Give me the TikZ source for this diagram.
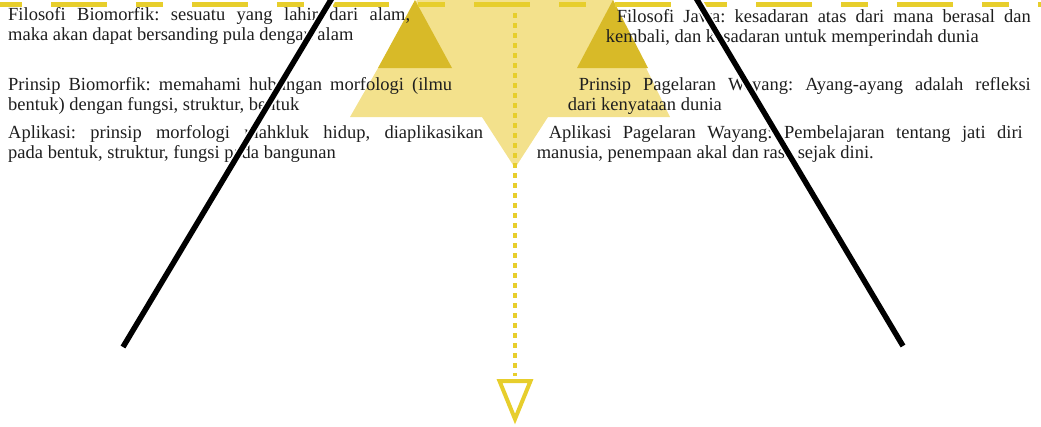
\documentclass[tikz,border=0pt]{standalone}
\usepackage{fontspec}
\setmainfont{Liberation Serif}
\usepackage{tikz}
\usetikzlibrary{positioning,calc}
\usepackage{xcolor}
\definecolor{dashgold}{RGB}{231,206,44}
\definecolor{palegold}{RGB}{243,225,140}
\definecolor{deepgold}{RGB}{216,186,40}
\definecolor{inkgray}{RGB}{30,30,30}
\tolerance=9999
\hbadness=10000
\frenchspacing

\begin{document}
\begin{tikzpicture}[
  x=1pt, y=-1pt,
  font=\fontsize{18.5}{20}\selectfont,
  leftblock/.style={
    anchor=base west, inner sep=0pt,
    text=inkgray, align=justify
  },
  rightblock/.style={
    anchor=base east, inner sep=0pt,
    text=inkgray, align=justify
  },
  axisline/.style={line width=5.5pt, draw=black},
  haloline/.style={line width=9pt, draw=white},
  topdash/.style={
    draw=dashgold, line width=5pt,
    dash pattern=on 27pt off 29pt on 56pt off 29pt, dash phase=5pt
  },
  flowdots/.style={draw=dashgold, line width=4.5pt, dash pattern=on 4.5pt off 5.5pt},
  flowhead/.style={draw=dashgold, line width=4pt, line join=miter}
]
\useasboundingbox (0,0) rectangle (1041,426);

% funnel
\fill[palegold] (417,0) -- (613,0) -- (670,117) -- (548,117) -- (515,168)
  -- (482,117) -- (350,117) -- cycle;
\fill[deepgold] (415,0) -- (452,68) -- (378,68) -- cycle;
\fill[deepgold] (613,0) -- (648,68) -- (577,68) -- cycle;

\draw[topdash] (0,4.5) -- (1041,4.5);

% flow down the middle
\coordinate (flowtop) at (515,13);
\coordinate (flowend) at (515,376);
\draw[flowdots] (flowtop) -- (flowend);
\draw[flowhead] (499.5,381) -- (530.5,381) -- (515,419) -- cycle;

% left side
\node[leftblock, text width=402pt] (bioFil) at (8,20)
  {Filosofi Biomorfik: sesuatu yang lahir dari alam,\linebreak
   maka akan dapat bersanding pula dengan alam};
\node[leftblock, text width=444pt] (bioPrin) at (8,90)
  {Prinsip Biomorfik: memahami hubungan morfologi (ilmu\linebreak
   bentuk) dengan fungsi, struktur, bentuk};
\node[leftblock, text width=475pt] (bioApl) at (8,138)
  {Aplikasi: prinsip morfologi mahkluk hidup, diaplikasikan\linebreak
   pada bentuk, struktur, fungsi pada bangunan};

% right side
\node[rightblock, text width=425pt] (jawaFil) at (1031,22)
  {\hspace*{11pt}Filosofi Jawa: kesadaran atas dari mana berasal dan\linebreak
   kembali, dan kesadaran untuk memperindah dunia};
\node[rightblock, text width=463pt] (jawaPrin) at (1031,90)
  {\hspace*{11pt}Prinsip Pagelaran Wayang: Ayang-ayang adalah refleksi\linebreak
   dari kenyataan dunia};
\node[rightblock, text width=486pt] (jawaApl) at (1023,138)
  {\hspace*{12pt}Aplikasi Pagelaran Wayang: Pembelajaran tentang jati diri\linebreak
   manusia, penempaan akal dan rasa sejak dini.};

% diverging lines
\coordinate (bioTop) at (332,-2);
\coordinate (bioFoot) at (123,347);
\coordinate (jawaTop) at (696,-2);
\coordinate (jawaFoot) at (903,346);
\draw[haloline] (bioTop) -- ($(bioFoot)!2pt!(bioTop)$);
\draw[haloline] (jawaTop) -- ($(jawaFoot)!2pt!(jawaTop)$);
\draw[axisline] (bioTop) -- (bioFoot);
\draw[axisline] (jawaTop) -- (jawaFoot);

\end{tikzpicture}
\end{document}
